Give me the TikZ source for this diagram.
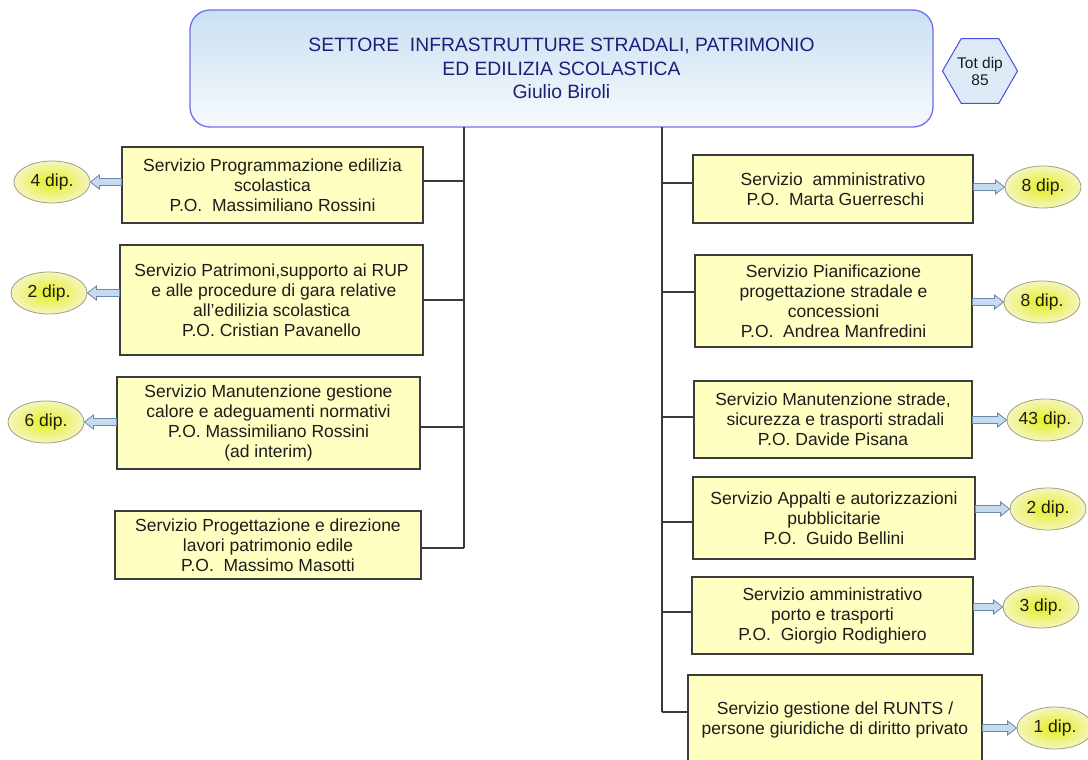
\documentclass[tikz,border=0pt]{standalone}
\usepackage{fontspec}
\setmainfont{Liberation Sans}
\usetikzlibrary{shapes.geometric,calc}

\definecolor{headtop}{HTML}{C9E0F2}
\definecolor{headbot}{HTML}{F7FAFD}
\definecolor{headline}{HTML}{7070EA}
\definecolor{headtext}{HTML}{1E1E78}
\definecolor{hexfill}{HTML}{DDEAF8}
\definecolor{hexline}{HTML}{4C4CE0}
\definecolor{boxfill}{HTML}{FFFFC2}
\definecolor{boxline}{HTML}{3C3C3C}
\definecolor{textc}{HTML}{1C1C1C}
\definecolor{dipin}{HTML}{E4EF1E}
\definecolor{dipout}{HTML}{F5F5BE}
\definecolor{dipline}{HTML}{A0A084}
\definecolor{arrfill}{HTML}{C6DAF0}
\definecolor{arrline}{HTML}{6C88A8}
\definecolor{wire}{HTML}{3A3A3A}

\tikzset{
  svc/.style={draw=boxline, fill=boxfill, line width=1.1pt, align=center,
    inner sep=2pt, text=textc, font=\fontsize{17.5}{20}\selectfont},
  dip/.style={ellipse, draw=dipline, line width=0.8pt, inner color=dipin,
    outer color=dipout, minimum width=76pt, minimum height=42pt,
    inner sep=0pt, text=textc, font=\fontsize{17.5}{20}\selectfont},
  barrow/.style={draw=arrline, fill=arrfill, line width=0.8pt, line join=miter},
  wireline/.style={draw=wire, line width=1.1pt},
}

% hollow block arrow pointing left, from a box edge to a count bubble
\newcommand\dipL[2]{%
  \path[barrow] let \p1=(#1), \p2=(#2) in
    (\x1,\y2+3.5pt) -- (\x2+9pt,\y2+3.5pt) -- (\x2+9pt,\y2+7pt) -- (\x2,\y2)
    -- (\x2+9pt,\y2-7pt) -- (\x2+9pt,\y2-3.5pt) -- (\x1,\y2-3.5pt) -- cycle;}
% hollow block arrow pointing right
\newcommand\dipR[2]{%
  \path[barrow] let \p1=(#1), \p2=(#2) in
    (\x1,\y2+3.5pt) -- (\x2-9pt,\y2+3.5pt) -- (\x2-9pt,\y2+7pt) -- (\x2,\y2)
    -- (\x2-9pt,\y2-7pt) -- (\x2-9pt,\y2-3.5pt) -- (\x1,\y2-3.5pt) -- cycle;}

\begin{document}
\begin{tikzpicture}[x=1pt,y=-1pt]
\useasboundingbox (0,0) rectangle (1088,760);

% head of the sector
\node[draw=headline, line width=1.3pt, rounded corners=20pt,
      top color=headtop, bottom color=headbot,
      minimum width=743pt, minimum height=117pt, align=center,
      text=headtext, font=\fontsize{19.3}{23.5}\selectfont]
  (top) at (561.5,68.5)
  {SETTORE\ \ INFRASTRUTTURE STRADALI, PATRIMONIO\\ED EDILIZIA SCOLASTICA\\Giulio Biroli};

\node[regular polygon, regular polygon sides=6,
      minimum size=75pt, inner sep=0pt, draw=hexline, line width=1pt,
      fill=hexfill, align=center, text=textc,
      font=\fontsize{15.5}{17}\selectfont]
  (tot) at (980,71) {Tot dip\\85};

% left-hand services
\node[svc, minimum width=301pt, minimum height=76pt] (l1) at (272.5,185)
  {Servizio Programmazione edilizia\\scolastica\\P.O.\ \ Massimiliano Rossini};
\node[svc, minimum width=303pt, minimum height=110pt] (l2) at (271.5,300)
  {Servizio Patrimoni,supporto ai RUP\\\ e alle procedure di gara relative\\all’edilizia scolastica\\P.O. Cristian Pavanello};
\node[svc, minimum width=303pt, minimum height=92pt] (l3) at (268.5,423)
  {Servizio Manutenzione gestione\\calore e adeguamenti normativi\\P.O. Massimiliano Rossini\\(ad interim)};
\node[svc, minimum width=306pt, minimum height=68pt] (l4) at (268,545)
  {Servizio Progettazione e direzione\\lavori patrimonio edile\\P.O.\ \ Massimo Masotti};

% right-hand services
\node[svc, minimum width=280pt, minimum height=68pt] (r1) at (833,189)
  {Servizio\ \ amministrativo\\\ P.O.\ \ Marta Guerreschi};
\node[svc, minimum width=277pt, minimum height=92pt] (r2) at (833.5,301)
  {Servizio Pianificazione\\progettazione stradale e\\concessioni\\P.O.\ \ Andrea Manfredini};
\node[svc, minimum width=278pt, minimum height=77pt] (r3) at (833,419.5)
  {Servizio Manutenzione strade,\\\ sicurezza e trasporti stradali\\P.O. Davide Pisana};
\node[svc, minimum width=282pt, minimum height=82pt] (r4) at (834,518)
  {Servizio Appalti e autorizzazioni\\pubblicitarie\\P.O.\ \ Guido Bellini};
\node[svc, minimum width=281pt, minimum height=77pt] (r5) at (832.5,615.5)
  {Servizio amministrativo\\porto e trasporti\\P.O.\ \ Giorgio Rodighiero};
\node[svc, minimum width=294pt, minimum height=90pt] (r6) at (835,720)
  {Servizio gestione del RUNTS /\\persone giuridiche di diritto privato};

% staff counts
\node[dip] (dl1) at (52,182) {4 dip.};
\node[dip] (dl2) at (49,293) {2 dip.};
\node[dip] (dl3) at (46,422) {6 dip.};
\node[dip] (dr1) at (1043,187) {8 dip.};
\node[dip] (dr2) at (1042,302) {8 dip.};
\node[dip] (dr3) at (1045,420) {43 dip.};
\node[dip] (dr4) at (1048,509) {2 dip.};
\node[dip] (dr5) at (1041,607) {3 dip.};
\node[dip] (dr6) at (1055,728) {1 dip.};

\dipL{l1.west}{dl1.east}
\dipL{l2.west}{dl2.east}
\dipL{l3.west}{dl3.east}
\dipR{r1.east}{dr1.west}
\dipR{r2.east}{dr2.west}
\dipR{r3.east}{dr3.west}
\dipR{r4.east}{dr4.west}
\dipR{r5.east}{dr5.west}
\dipR{r6.east}{dr6.west}

% trunks
\coordinate (ltop) at (464,127);
\coordinate (lbot) at (464,548);
\coordinate (rtop) at (662,127);
\coordinate (rbot) at (662,712);
\draw[wireline] (ltop) -- (lbot);
\draw[wireline] (rtop) -- (rbot);

% branches
\draw[wireline] ([yshift=4pt]l1.east) -- ([yshift=4pt]l1.east -| ltop);
\draw[wireline] (l2.east) -- (l2.east -| ltop);
\draw[wireline] ([yshift=-4pt]l3.east) -- ([yshift=-4pt]l3.east -| ltop);
\draw[wireline] (lbot) -- (lbot -| l4.east);
\draw[wireline] ([yshift=6pt]r1.west) -- ([yshift=6pt]r1.west -| rtop);
\draw[wireline] ([yshift=9pt]r2.west) -- ([yshift=9pt]r2.west -| rtop);
\draw[wireline] ([yshift=2.5pt]r3.west) -- ([yshift=2.5pt]r3.west -| rtop);
\draw[wireline] ([yshift=-4pt]r4.west) -- ([yshift=-4pt]r4.west -| rtop);
\draw[wireline] ([yshift=3.5pt]r5.west) -- ([yshift=3.5pt]r5.west -| rtop);
\draw[wireline] (rbot) -- (rbot -| r6.west);
\end{tikzpicture}
\end{document}
